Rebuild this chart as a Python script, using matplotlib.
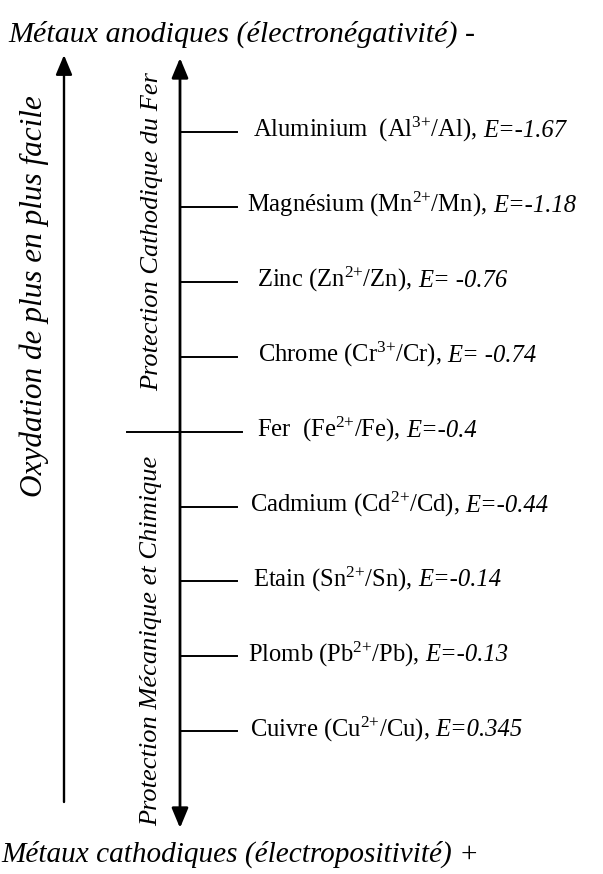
import matplotlib.pyplot as plt

plt.rcParams.update({
    "font.family": "Liberation Serif",
    "mathtext.fontset": "custom",
    "mathtext.rm": "Liberation Serif",
    "mathtext.it": "Liberation Serif:italic",
})

# metals from anodic (top) to cathodic (bottom)
metals = ["Aluminium ", "Magnésium", "Zinc", "Chrome", "Fer ", "Cadmium", "Etain", "Plomb", "Cuivre"]
ions = ["Al", "Mn", "Zn", "Cr", "Fe", "Cd", "Sn", "Pb", "Cu"]
charges = ["3", "2", "2", "3", "2", "2", "2", "2", "2"]
potentials = ["-1.67", "-1.18", " -0.76", " -0.74", "-0.4", "-0.44", "-0.14", "-0.13", "0.345"]

title_top = "Métaux anodiques (électronégativité) -"
title_bottom = "Métaux cathodiques (électropositivité) +"
left_label = "Oxydation de plus en plus facile"
zone_top = "Protection Cathodique du Fer"
zone_bottom = "Protection Mécanique et Chimique"

# where each label starts (pixels)
label_x = [253, 247, 257, 258, 257, 250, 253, 248, 250]


def main() -> None:
    fig = plt.figure(figsize=(6.03, 8.74), dpi=100)
    ax = fig.add_axes([0, 0, 1, 1])
    ax.set_xlim(0, 603)
    ax.set_ylim(874, 0)
    ax.axis("off")

    axis_x = 180
    y0, step = 132, 74.9
    fs = 17.7

    ax.text(8, 42, title_top, fontsize=21.6, style="italic", va="baseline")
    ax.text(1, 862, title_bottom, fontsize=21.1, style="italic", va="baseline")

    ax.annotate("", xy=(64, 55), xytext=(64, 802),
                arrowprops=dict(arrowstyle="-|>,head_length=0.6,head_width=0.25",
                                mutation_scale=20, lw=1.7, color="black",
                                shrinkA=0, shrinkB=0))
    ax.annotate("", xy=(axis_x, 58), xytext=(axis_x, 828),
                arrowprops=dict(arrowstyle="<|-|>,head_length=0.6,head_width=0.25",
                                mutation_scale=20, lw=2.0, color="black",
                                shrinkA=0, shrinkB=0))

    ax.text(34, 296, left_label, fontsize=22.5, style="italic", rotation=90,
            ha="center", va="center")
    ax.text(152, 232, zone_top, fontsize=19, style="italic", rotation=90,
            ha="center", va="center")
    ax.text(151, 641, zone_bottom, fontsize=19, style="italic", rotation=90,
            ha="center", va="center")

    for i, (metal, ion, charge, pot) in enumerate(zip(metals, ions, charges, potentials)):
        y = y0 + i * step
        if metal.strip() == "Fer":
            ax.plot([127, 242], [y, y], color="black", lw=1.4)
        else:
            ax.plot([axis_x, 237], [y, y], color="black", lw=1.4)
        t = ax.text(label_x[i], y + 5, f"{metal} ({ion}$^{{{charge}{{+}}}}$/{ion}),",
                    fontsize=fs, va="baseline")
        ax.annotate(f"E={pot}", xy=(1, y + 5), xycoords=(t, "data"),
                    xytext=(4.4, 0), textcoords="offset points",
                    fontsize=fs, style="italic", va="baseline")

    fig.savefig("out.png", dpi=100)


if __name__ == "__main__":
    main()
